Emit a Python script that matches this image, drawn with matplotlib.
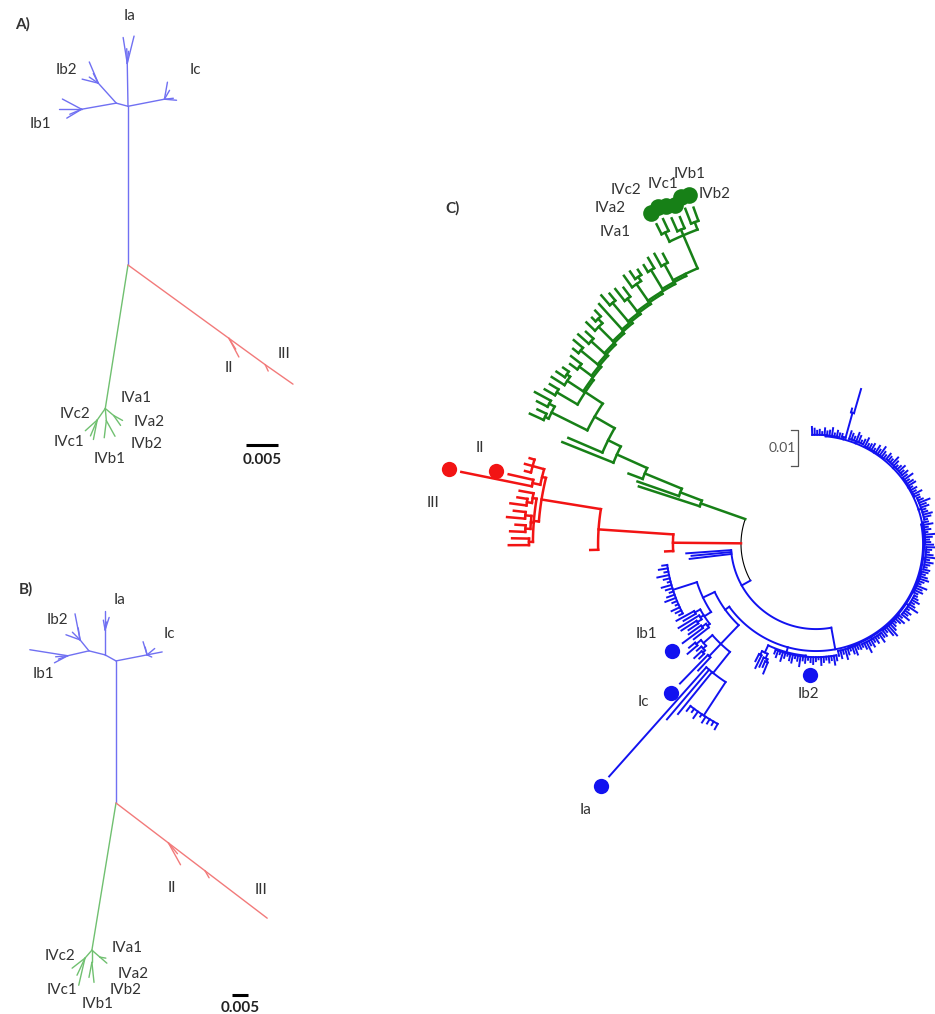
import math
import matplotlib
matplotlib.use("Agg")
import matplotlib.pyplot as plt
from matplotlib.collections import LineCollection

W_PX, H_PX, DPI = 935, 1014, 100

# ---------------------------------------------------------------------------
# Panels A and B: unrooted trees.  Node 0 is the root, entry k describes node
# k+1: parent node, branch length (1e-4 substitutions/site), direction (deg).
# ---------------------------------------------------------------------------
A_PARENT = [0, 1, 2, 2, 2, 2, 1, 7, 8, 8, 8, 8, 7, 13, 13, 13, 13, 1, 18, 18, 18, 18,
            0, 23, 24, 24, 24, 23, 28, 28, 23, 31, 31,
            0, 34, 34, 34, 37, 37]
A_LENGTH = [248, 67, 41, 44, 23, 19, 19, 42, 36, 26, 17, 17, 55, 34, 36, 27, 20, 58, 27, 19, 14, 16,
            227, 22, 25, 31, 27, 19, 27, 28, 17, 19, 16,
            195, 33, 20, 70, 53, 11]
A_ANGLE = [90, 91, 99, 76, 92, 84, 165, 132, 113, 166, 117, 146, 190, 152, 180, 211, 203, 11, 80, -5, 6, 60,
           261, 235, 222, 259, 247, 275, 263, 299, 320, 305, 331,
           -36, -62, -58, -36, -35, -65]

B_PARENT = [0, 1, 2, 3, 3, 3, 3, 2, 8, 9, 9, 9, 9, 8, 14, 14, 14, 14, 1, 19, 19, 19, 19, 19,
            0, 25, 26, 26, 26, 25, 30, 30, 25, 33, 33,
            0, 36, 36, 36, 39, 39]
B_LENGTH = [444, 39, 78, 59, 41, 31, 25, 52, 44, 83, 47, 38, 34, 68, 120, 47, 38, 31, 99, 43, 48, 16, 25, 31,
            466, 33, 51, 87, 59, 38, 63, 48, 33, 29, 19,
            206, 78, 44, 144, 25, 244]
B_ANGLE = [90, 151, 90, 90, 72, 100, 80, 166, 129, 101, 160, 99, 135, 193, 171, 208, 185, 200, 11, 107, 11, -25, 104, 40,
           260.7, 229, 218, 257, 245, 270, 276, 259, 319, 319, 350,
           -37.3, -61, -50, -37.3, -60, -37.3]

AB_ROOT_CLADES = ["I", "IV", "II/III"]          # root branches in node order
AB_SCALE = 0.005                                  # scale bar, substitutions/site

A_LABELS = ["Ia", "Ib2", "Ic", "Ib1", "II", "III", "IVa1", "IVc2", "IVa2", "IVc1", "IVb2", "IVb1"]
B_LABELS = ["Ia", "Ib2", "Ic", "Ib1", "II", "III", "IVa1", "IVc2", "IVa2", "IVc1", "IVb2", "IVb1"]

# ---------------------------------------------------------------------------
# Panel C: circular phylogram, Newick with branch lengths in 1e-4 subs/site
# ---------------------------------------------------------------------------
GREEN_CORE = "((IVb2:39,IVb1:44):22,(IVc1:33,IVc2:39):17,(IVa2:36,IVa1:31):28)"
GREEN_SPINE = [100, 6, 6, 6, 6, 6, 6, 6, 6, 6, 6, 6, 58, 64, 39, 92, 111, 64]
GREEN_SIDES = ["(:28,:39):50", "(:33,:22):61", "((:17,:25):14,:39):56", "(:31,:42):44",
               "(:25,:36):67", ":95", "((:22,:14):17,:33):56", "(:28,:39):50",
               "(:33,:19):61", "(:36,:25):42", "((:19,:28):11,:42):53", "(:28,:33):67",
               "((:50,:33):17,(:28,:42):11):111", ":103", ":153", ":42", ":122", ":178"]
GREEN_STEM = 131

RED_CLADE = ("(((((:14,:22,:17):33,(II:70,III:200):22):11,"
             "((:39,(:28,:45):14):11,((:33,:50):17,(:28,:42):14):8,(:47,:56):11):14)"
             ":167,:22):208,:22):189")

BLUE_BASAL_TIPS = [125, 111, 117]
BLUE_STEM = 28
IB1_FUZZ = "(:14,:25,:11,:33,:17,:8,:28,:19,:11,:22,:31,:14,:8,:25,:17,:11)"
IB1_STAIRS = "((:56,:39):17,(:67,(:50,:33):14):11,((:42,Ib1:70):14,:53):8)"
IAIC_BOX = "((:22,:36):17,(:17,(:28,:19):8):11)"
IC_CLADE = "(Ic:111,:50)"
IA_CLADE = "(Ia:406,:181,:150,(:17,:11,:22,:8,:19,:14,:11,:17):111)"
IB2_BOX = "((:22,:39):11,(:28,(:17,:33):8):14)"
IB2_FUZZ = ("(:11,:19,:8,:25,:14,:6,:17,:22,:8,:14,:28,:11,:17,:8,Ib2:14,"
            ":19,:11,:6,:22,:14,:8,:17,:11,:25,:14)")
RIM_FAN_STEMS = [3, 6, 3, 8, 3, 6, 3, 8, 3, 6, 3, 6]
RIM_FAN_TIPS = [
    [14, 22, 11, 28, 17, 8, 19, 25, 11, 14],
    [8, 17, 31, 14, 22, 11, 19, 8, 25, 14],
    [19, 11, 28, 36, 22, 14, 8, 17, 25, 11],
    [25, 14, 19, 8, 31, 17, 11, 22, 14, 8],
    [11, 22, 17, 28, 8, 14, 25, 19, 11, 17],
    [17, 8, 14, 22, 11, 31, 19, 8, 14, 25],
    [22, 14, 11, 19, 28, 8, 17, 11, 25, 14],
    [8, 19, 25, 14, 11, 22, 17, 31, 14, 8],
    [14, 25, 11, 17, 8, 22, 19, 11, 28, 14],
    [19, 11, 22, 14, 8, 17, 25, 11, 14, 19],
    [11, 17, 28, 14, 22, 8, 19, 14, 11, 25],
    [14, 8, 19, 25, 11, 17, 22],
]
TOP_SPIKE = "((:70,:11):72,:8):6"
TOP_FAN_STEM = 3
TOP_FAN_TIPS = [11, 17, 8, 22, 14, 11, 19, 8, 14, 11, 17, 22]

C_DOT_TIPS = ["IVb2", "IVb1", "IVc1", "IVc2", "IVa2", "IVa1", "II", "III", "Ib1", "Ic", "Ia", "Ib2"]
C_SCALE = 0.01


def caterpillar(core, spine, sides):
    s = core
    for step, side in zip(spine, sides):
        s = "(" + s + ":" + str(step) + "," + side + ")"
    return s


def fan(stem, tips):
    return "(" + ",".join(":%d" % t for t in tips) + "):%d" % stem


GREEN_CLADE = caterpillar(GREEN_CORE, GREEN_SPINE, GREEN_SIDES) + ":%d" % GREEN_STEM
IB1 = "(" + IB1_FUZZ + ":70," + IB1_STAIRS + ":22)"
IAIC = "(" + IAIC_BOX + ":33," + IC_CLADE + ":47," + IA_CLADE + ":75)"
BLUE_LEFT = "(" + IB1 + ":36," + IAIC + ":72)"
BLUE_IB2 = "(" + IB2_BOX + ":22," + IB2_FUZZ + ":3)"
RIM = ("(" + ",".join(fan(s, t) for s, t in zip(RIM_FAN_STEMS, RIM_FAN_TIPS)) + ","
       + TOP_SPIKE + "," + fan(TOP_FAN_STEM, TOP_FAN_TIPS) + ")")
BLUE_MAIN = "(" + BLUE_LEFT + ":14," + BLUE_IB2 + ":14," + RIM + ":3)"
BLUE_CLADE = ("(" + ",".join(":%d" % t for t in BLUE_BASAL_TIPS) + "," + BLUE_MAIN
              + ":61):%d" % BLUE_STEM)
C_TREE = "(" + GREEN_CLADE + "," + RED_CLADE + "," + BLUE_CLADE + ");"

# ---------------------------------------------------------------------------
# styling
# ---------------------------------------------------------------------------
AB_COLORS = {"I": "#7070f2", "IV": "#70c070", "II/III": "#f27a7a"}
C_COLORS = ["#178017", "#f21414", "#1212f0"]
TEXT_COLOR = "#333333"
plt.rcParams["font.family"] = ["Lato", "DejaVu Sans"]


def panel_axes(fig, box, origin, px_per_unit):
    x0, y0, x1, y1 = box
    ax = fig.add_axes([x0 / W_PX, 1 - y1 / H_PX, (x1 - x0) / W_PX, (y1 - y0) / H_PX])
    ox, oy = origin
    ax.set_xlim((x0 - ox) / px_per_unit, (x1 - ox) / px_per_unit)
    ax.set_ylim((oy - y1) / px_per_unit, (oy - y0) / px_per_unit)
    ax.axis("off")
    return ax


def px_to_data(origin, px_per_unit, x, y):
    return (x - origin[0]) / px_per_unit, (origin[1] - y) / px_per_unit


def draw_unrooted(ax, parents, lengths, angles, lw):
    pos = {0: (0.0, 0.0)}
    top = {}
    segs, cols = [], []
    root_kids = []
    for k, p in enumerate(parents):
        node = k + 1
        L = lengths[k] * 1e-4
        a = math.radians(angles[k])
        x0, y0 = pos[p]
        pos[node] = (x0 + L * math.cos(a), y0 + L * math.sin(a))
        if p == 0:
            root_kids.append(node)
            top[node] = AB_ROOT_CLADES[len(root_kids) - 1]
        else:
            top[node] = top[p]
        segs.append([pos[p], pos[node]])
        cols.append(AB_COLORS[top[node]])
    ax.add_collection(LineCollection(segs, colors=cols, linewidths=lw, capstyle="round"))


def parse_newick(text):
    s = "".join(text.split())
    pos = 0

    def node():
        nonlocal pos
        n = {"kids": [], "name": "", "len": 0.0}
        if s[pos] == "(":
            pos += 1
            n["kids"].append(node())
            while s[pos] == ",":
                pos += 1
                n["kids"].append(node())
            pos += 1
        start = pos
        while pos < len(s) and s[pos] not in ":,();":
            pos += 1
        n["name"] = s[start:pos]
        if pos < len(s) and s[pos] == ":":
            pos += 1
            start = pos
            while pos < len(s) and s[pos] not in ",();":
                pos += 1
            n["len"] = float(s[start:pos])
        return n

    return node()


def circular_layout(root, r0, th0, th1):
    tips = []

    def walk(n, r):
        n["r"] = r
        for k in n["kids"]:
            walk(k, r + k["len"] * 1e-4)
        if not n["kids"]:
            tips.append(n)

    walk(root, r0)
    step = (th1 - th0) / (len(tips) - 1)
    for i, t in enumerate(tips):
        t["th"] = th0 + i * step

    def ang(n):
        if n["kids"]:
            n["th"] = sum(ang(k) for k in n["kids"]) / len(n["kids"])
        return n["th"]

    ang(root)
    return tips


def polar(r, th):
    a = math.radians(th)
    return r * math.cos(a), r * math.sin(a)


def draw_circular(ax, root, lw_by_color):
    segs, cols, lws = [], [], []

    def add(path, color):
        segs.append(path)
        cols.append(color)
        lws.append(lw_by_color.get(color, 1.2))

    def walk(n, color):
        if n["kids"]:
            ths = [k["th"] for k in n["kids"]]
            a0, a1 = min(ths), max(ths)
            m = max(2, int((a1 - a0) / 0.4) + 2)
            add([polar(n["r"], a0 + (a1 - a0) * i / (m - 1)) for i in range(m)], color)
        for i, k in enumerate(n["kids"]):
            kc = C_COLORS[i] if color == "black" else color
            k["color"] = kc
            add([polar(n["r"], k["th"]), polar(k["r"], k["th"])], kc)
            walk(k, kc)

    walk(root, "black")
    ax.add_collection(LineCollection(segs, colors=cols, linewidths=lws, capstyle="projecting",
                                     joinstyle="miter"))


def label(fig, text, x, y, size=11, weight="normal", color=TEXT_COLOR):
    fig.text(x / W_PX, 1 - (y + 1.5) / H_PX, text, ha="center", va="center", fontsize=size,
             fontweight=weight, color=color)


fig = plt.figure(figsize=(W_PX / DPI, H_PX / DPI), dpi=DPI)
fig.patch.set_facecolor("white")

# ---- panel A ----
A_ORIGIN, A_PPU = (128, 265), 6400
axA = panel_axes(fig, (0, 0, 340, 480), A_ORIGIN, A_PPU)
draw_unrooted(axA, A_PARENT, A_LENGTH, A_ANGLE, 1.0)
bx, by = px_to_data(A_ORIGIN, A_PPU, 246, 445)
axA.plot([bx, bx + AB_SCALE], [by, by], color="black", lw=2.2, solid_capstyle="butt")
A_LABEL_POS = [(130, 15), (66, 68), (195, 68), (40, 123), (229, 367), (284, 353),
               (136, 397), (75, 413), (149, 420), (69, 441), (147, 442), (110, 458)]
for t, (x, y) in zip(A_LABELS, A_LABEL_POS):
    label(fig, t, x, y)
label(fig, "A)", 23, 23, weight="bold")
label(fig, "%g" % AB_SCALE, 262, 459, weight="bold", color="#222222")

# ---- panel B ----
B_ORIGIN, B_PPU = (116, 803), 3200
axB = panel_axes(fig, (0, 560, 340, 1014), B_ORIGIN, B_PPU)
draw_unrooted(axB, B_PARENT, B_LENGTH, B_ANGLE, 1.0)
bx, by = px_to_data(B_ORIGIN, B_PPU, 232, 995)
axB.plot([bx, bx + AB_SCALE], [by, by], color="black", lw=2.2, solid_capstyle="butt")
B_LABEL_POS = [(120, 598), (57, 619), (169, 633), (43, 672), (172, 887), (261, 888),
               (127, 947), (60, 955), (133, 973), (62, 988), (126, 988), (98, 1003)]
for t, (x, y) in zip(B_LABELS, B_LABEL_POS):
    label(fig, t, x, y)
label(fig, "B)", 26, 588, weight="bold")
label(fig, "%g" % AB_SCALE, 240, 1007, weight="bold", color="#222222")

# ---- panel C ----
C_ORIGIN, C_PPU = (816, 544), 3600
axC = panel_axes(fig, (380, 140, 935, 850), C_ORIGIN, C_PPU)
tree = parse_newick(C_TREE)
tips = circular_layout(tree, 75 / C_PPU, 110.0, 452.0)
draw_circular(axC, tree, {C_COLORS[0]: 1.8, C_COLORS[1]: 1.8, C_COLORS[2]: 1.4, "black": 0.8})
gap = 13 / C_PPU
for t in tips:
    if t["name"] in C_DOT_TIPS:
        x, y = polar(t["r"] + gap, t["th"])
        size = 12 if t["color"] == C_COLORS[0] else 11
        axC.plot([x], [y], "o", ms=size, color=t["color"], mec="none", zorder=5)

# vertical scale bracket
sx, sy = px_to_data(C_ORIGIN, C_PPU, 798, 430)
tick = 7 / C_PPU
axC.plot([sx - tick, sx, sx, sx - tick], [sy, sy, sy - C_SCALE, sy - C_SCALE],
         color="#555555", lw=0.9)
label(fig, "%g" % C_SCALE, 782, 447, size=10, color="#555555")

C_LABELS = ["IVb1", "IVc1", "IVc2", "IVb2", "IVa2", "IVa1", "II", "III", "Ib1", "Ic", "Ib2", "Ia"]
C_LABEL_POS = [(690, 172), (663, 183), (626, 189), (715, 193), (610, 207), (615, 231),
               (480, 447), (433, 501), (646, 633), (643, 700), (808, 692), (586, 808)]
for t, (x, y) in zip(C_LABELS, C_LABEL_POS):
    label(fig, t, x, y)
label(fig, "C)", 453, 207, weight="bold")

fig.savefig("out.png", dpi=DPI, facecolor="white")
